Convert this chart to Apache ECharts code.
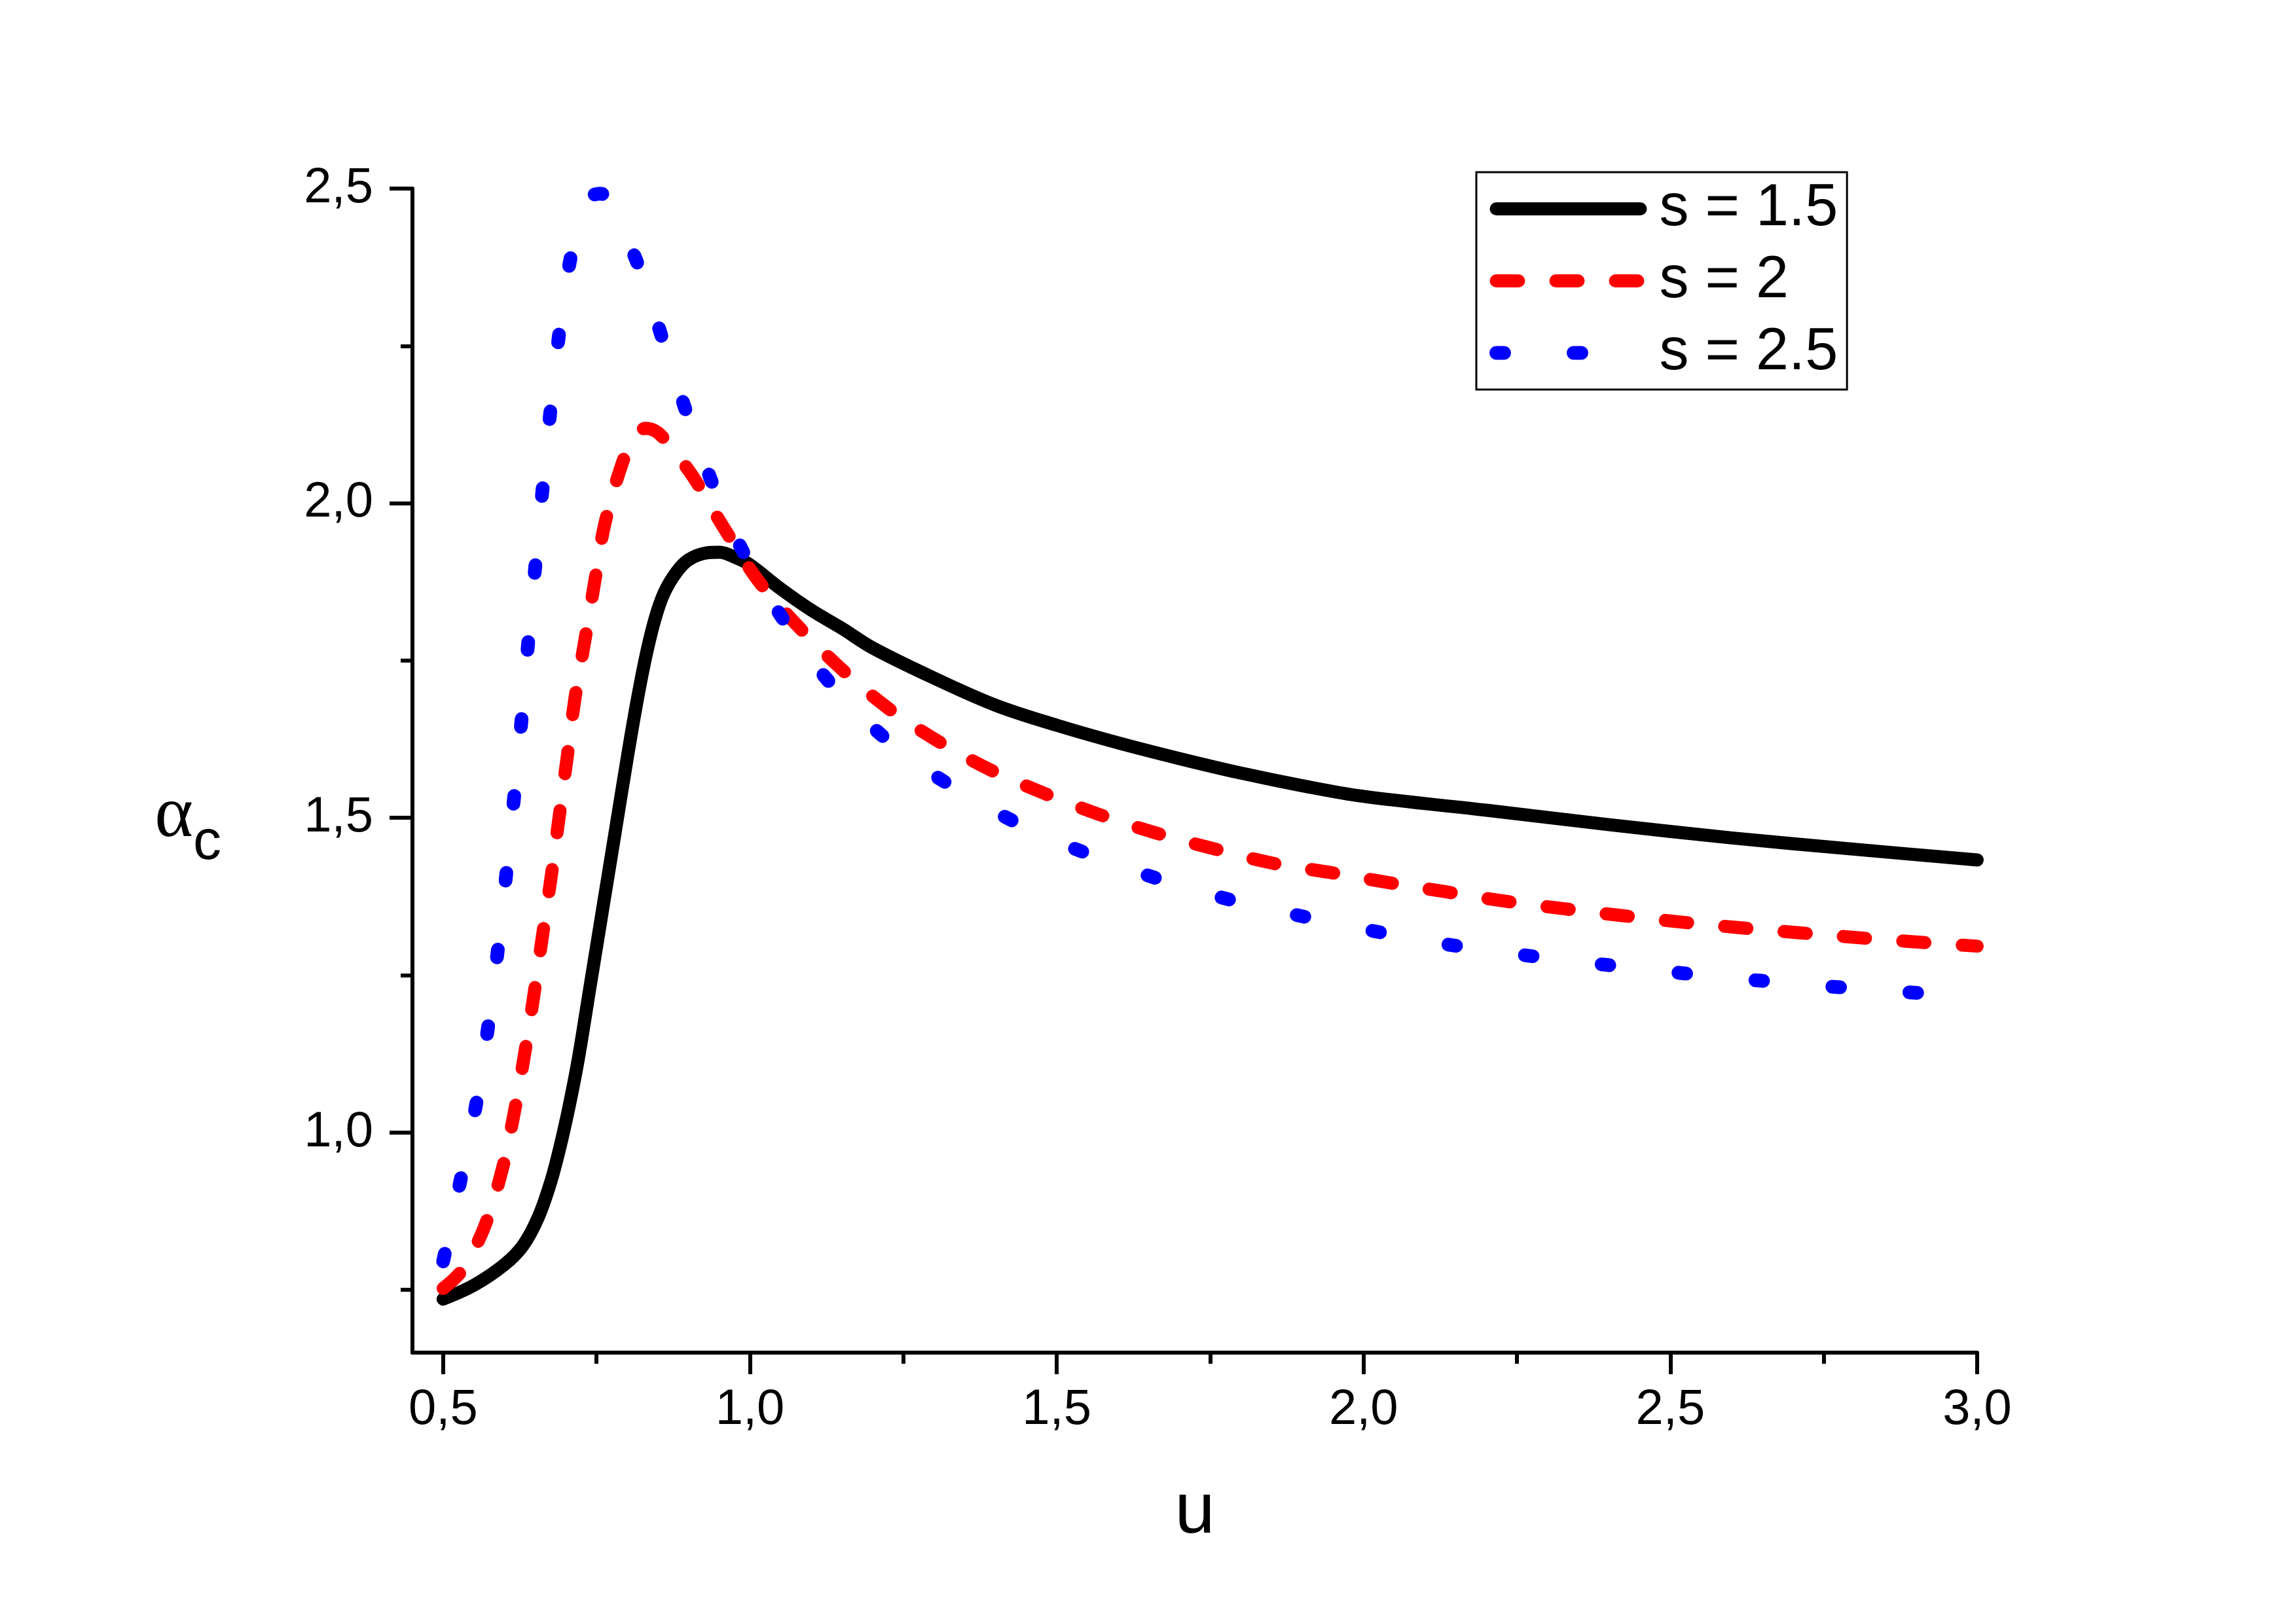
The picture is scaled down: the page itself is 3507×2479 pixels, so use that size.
<!DOCTYPE html>
<html>
<head>
<meta charset="utf-8">
<script src="https://cdn.jsdelivr.net/npm/echarts@6/dist/echarts.min.js"></script>
<style>
html, body { margin: 0; padding: 0; background: #fff; }
#chart { width: 3507px; height: 2479px; }
</style>
</head>
<body>
<div id="chart"></div>
<script>
// curve s = 1.5
var uBlack = [0.50, 0.55, 0.60, 0.63, 0.655, 0.675, 0.69, 0.705, 0.72, 0.74, 0.76, 0.78, 0.80, 0.815, 0.83, 0.845, 0.86, 0.88, 0.90, 0.93,
              0.95, 0.98, 1.00, 1.05, 1.10, 1.15, 1.20, 1.30, 1.40, 1.50, 1.60, 1.70, 1.80, 1.90, 2.00, 2.20, 2.40, 2.60, 2.80, 3.00];
var aBlack = [0.735, 0.757, 0.790, 0.820, 0.865, 0.920, 0.975, 1.040, 1.115, 1.235, 1.355, 1.475, 1.595, 1.680, 1.755, 1.815, 1.857, 1.890, 1.910, 1.921,
              1.922, 1.912, 1.902, 1.864, 1.830, 1.801, 1.770, 1.722, 1.679, 1.647, 1.619, 1.594, 1.571, 1.551, 1.534, 1.512, 1.489, 1.468, 1.450, 1.433];
// curve s = 2
var uRed = [0.50, 0.53, 0.567, 0.596, 0.616, 0.633, 0.648, 0.662, 0.676, 0.689, 0.702, 0.715, 0.731, 0.747, 0.763, 0.79, 0.81, 0.83, 0.85, 0.875,
            0.908, 0.958, 1.015, 1.074, 1.143, 1.22, 1.301, 1.388, 1.479, 1.57, 1.661, 1.755, 1.851, 1.946, 2.041, 2.136, 2.234, 2.33, 2.426, 2.52,
            2.616, 2.713, 2.825, 2.939, 3.0];
var aRed = [0.752, 0.780, 0.849, 0.940, 1.032, 1.126, 1.219, 1.313, 1.406, 1.501, 1.595, 1.691, 1.782, 1.875, 1.965, 2.058, 2.102, 2.119, 2.112, 2.084,
            2.041, 1.960, 1.875, 1.809, 1.742, 1.678, 1.625, 1.578, 1.539, 1.505, 1.476, 1.451, 1.428, 1.413, 1.397, 1.382, 1.367, 1.355, 1.344, 1.334,
            1.325, 1.317, 1.308, 1.300, 1.296];
// curve s = 2.5
var uBlue = [0.50, 0.529, 0.555, 0.574, 0.590, 0.604, 0.617, 0.629, 0.640, 0.652, 0.664, 0.677, 0.692, 0.713, 0.740, 0.757, 0.770, 0.795, 0.823, 0.862,
             0.902, 0.947, 1.0, 1.065, 1.138, 1.233, 1.342, 1.458, 1.577, 1.698, 1.822, 1.948, 2.069, 2.196, 2.327, 2.453, 2.581, 2.709, 2.837, 2.965,
             3.0];
var aBlue = [0.795, 0.927, 1.051, 1.173, 1.297, 1.421, 1.546, 1.669, 1.794, 1.918, 2.042, 2.166, 2.290, 2.413, 2.486, 2.492, 2.478, 2.430, 2.365, 2.247,
             2.129, 2.012, 1.902, 1.800, 1.706, 1.616, 1.542, 1.481, 1.433, 1.393, 1.360, 1.334, 1.310, 1.290, 1.274, 1.260, 1.247, 1.236, 1.226, 1.218,
             1.216];

var seriesNames = ['s = 1.5', 's = 2', 's = 2.5'];
var xMajor = [0.5, 1.0, 1.5, 2.0, 2.5, 3.0];
var xMinor = [0.75, 1.25, 1.75, 2.25, 2.75];
var yMajor = [1.0, 1.5, 2.0, 2.5];
var yMinor = [0.75, 1.25, 1.75, 2.25];

function pairs(u, a) {
    return u.map(function (x, i) { return [x, a[i]]; });
}
function comma(v) {
    return v.toFixed(1).replace('.', ',');
}

var font = 'Liberation Sans, Arial, sans-serif';
var axisLine = { show: true, lineStyle: { color: '#000', width: 6 } };

var myChart = echarts.init(document.getElementById('chart'));
var option = {
    backgroundColor: '#fff',
    animation: false,
    grid: { left: 630, right: 487, top: 288, bottom: 413 },
    legend: {
        orient: 'vertical',
        left: 2255,
        top: 263,
        padding: [11, 14, 11, 20],
        borderColor: '#000',
        borderWidth: 3,
        itemWidth: 220,
        itemHeight: 24,
        itemGap: 20,
        selectedMode: false,
        lineStyle: { width: 'inherit', type: 'inherit', cap: 'inherit' },
        itemStyle: { opacity: 0 },
        textStyle: { fontFamily: font, fontSize: 90, color: '#000', padding: [0, 0, 0, 24] },
        data: seriesNames
    },
    xAxis: [{
        type: 'value',
        min: 0.45,
        max: 3.0,
        name: 'u',
        nameLocation: 'middle',
        nameGap: 190,
        nameTextStyle: { fontFamily: font, fontSize: 110, color: '#000' },
        axisLine: axisLine,
        axisTick: { show: true, length: 33, customValues: xMajor, lineStyle: { color: '#000', width: 6 } },
        axisLabel: { show: true, margin: 50, customValues: xMajor, formatter: comma,
                     fontFamily: font, fontSize: 76, color: '#000' },
        splitLine: { show: false }
    }, {
        type: 'value',
        min: 0.45,
        max: 3.0,
        position: 'bottom',
        axisLine: { show: false },
        axisTick: { show: true, length: 17, customValues: xMinor, lineStyle: { color: '#000', width: 6 } },
        axisLabel: { show: false },
        splitLine: { show: false }
    }],
    yAxis: [{
        type: 'value',
        min: 0.65,
        max: 2.5,
        name: '{a|α}{c|c}',
        nameLocation: 'middle',
        nameRotate: 0,
        nameGap: 292,
        nameTextStyle: {
            padding: [182, 0, 0, 0],
            rich: {
                a: { fontFamily: 'Liberation Serif, DejaVu Serif, serif', fontSize: 112, color: '#000', padding: [0, 0, 40, 0] },
                c: { fontFamily: font, fontSize: 86, color: '#000', padding: [40, 0, 0, 0] }
            }
        },
        axisLine: axisLine,
        axisTick: { show: true, length: 35, customValues: yMajor, lineStyle: { color: '#000', width: 6 } },
        axisLabel: { show: true, margin: 60, customValues: yMajor, formatter: comma,
                     fontFamily: font, fontSize: 76, color: '#000' },
        splitLine: { show: false }
    }, {
        type: 'value',
        min: 0.65,
        max: 2.5,
        position: 'left',
        axisLine: { show: false },
        axisTick: { show: true, length: 18, customValues: yMinor, lineStyle: { color: '#000', width: 6 } },
        axisLabel: { show: false },
        splitLine: { show: false }
    }],
    series: [{
        name: seriesNames[0],
        type: 'line',
        symbol: 'none',
        smooth: 0.35,
        lineStyle: { color: '#000000', width: 20, cap: 'round', join: 'round' },
        itemStyle: { color: '#000000' },
        data: pairs(uBlack, aBlack)
    }, {
        name: seriesNames[1],
        type: 'line',
        symbol: 'none',
        smooth: 0.35,
        lineStyle: { color: '#ff0000', width: 20, type: [34, 57], cap: 'round', join: 'round' },
        itemStyle: { color: '#ff0000' },
        data: pairs(uRed, aRed)
    }, {
        name: seriesNames[2],
        type: 'line',
        symbol: 'none',
        smooth: 0.35,
        lineStyle: { color: '#0000ff', width: 21, type: [12, 106], cap: 'round', join: 'round' },
        itemStyle: { color: '#0000ff' },
        data: pairs(uBlue, aBlue)
    }]
};
myChart.setOption(option);
</script>
</body>
</html>
